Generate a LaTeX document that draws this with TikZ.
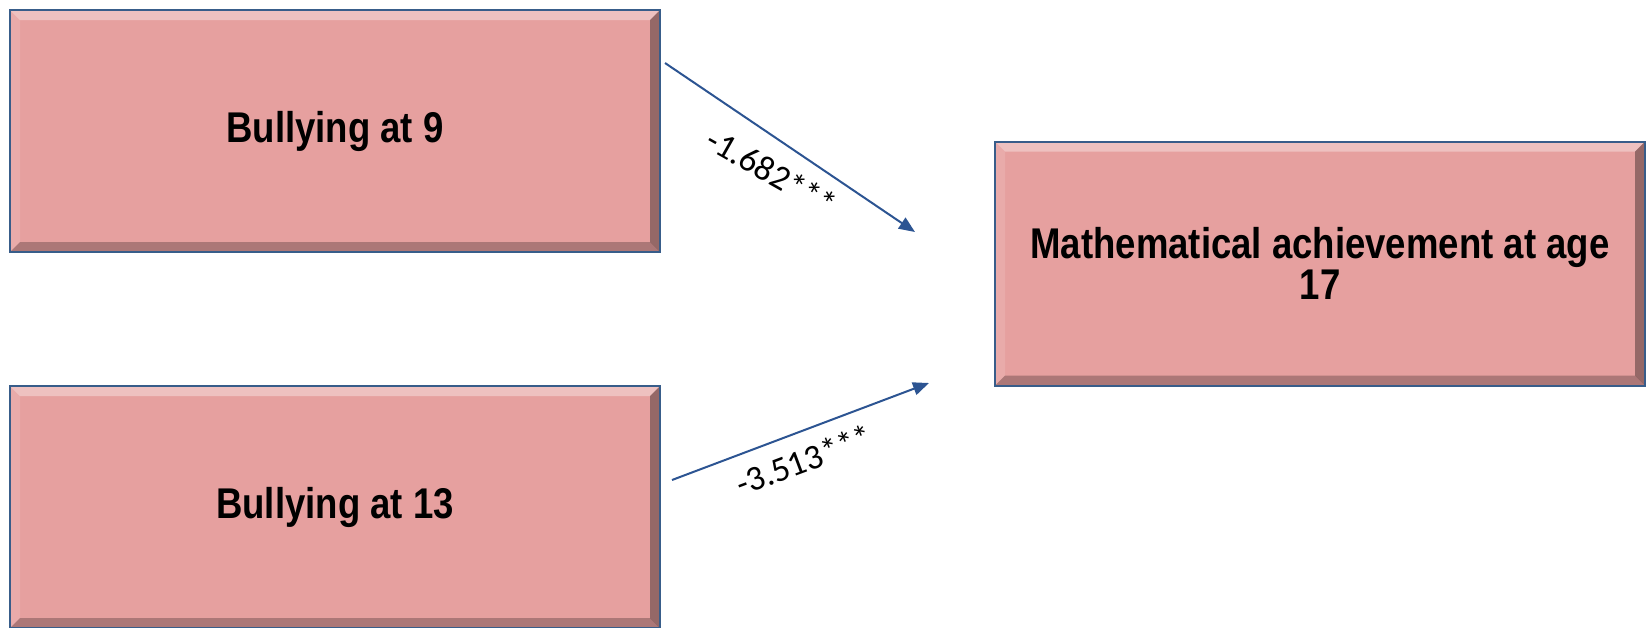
\documentclass[tikz,border=0pt]{standalone}
\usepackage{fontspec}
\setmainfont{Liberation Sans}
\newfontfamily\boxfont[FakeStretch=0.85]{Liberation Sans Bold}
\newfontfamily\coeffont{Carlito}
\usetikzlibrary{arrows.meta}

\definecolor{boxfill}{RGB}{230,160,159}
\definecolor{boxline}{RGB}{56,93,138}
\definecolor{pathblue}{RGB}{44,84,146}

\tikzset{
  varbox/.style={draw=boxline, line width=1pt, fill=boxfill,
    minimum width=325pt, minimum height=121pt, inner sep=0pt, align=center,
    font=\boxfont\fontsize{21.5}{20.5}\selectfont,
    path picture={
      % bevel: light top and left, dark bottom and right
      \fill[white,opacity=0.35] (path picture bounding box.north west) -- (path picture bounding box.north east)
        -- ([shift={(-5pt,-5pt)}]path picture bounding box.north east) -- ([shift={(5pt,-5pt)}]path picture bounding box.north west) -- cycle;
      \fill[white,opacity=0.12] (path picture bounding box.north west) -- ([shift={(5pt,-5pt)}]path picture bounding box.north west)
        -- ([shift={(5pt,5pt)}]path picture bounding box.south west) -- (path picture bounding box.south west) -- cycle;
      \fill[black,opacity=0.25] (path picture bounding box.south west) -- (path picture bounding box.south east)
        -- ([shift={(-5pt,5pt)}]path picture bounding box.south east) -- ([shift={(5pt,5pt)}]path picture bounding box.south west) -- cycle;
      \fill[black,opacity=0.35] (path picture bounding box.north east) -- (path picture bounding box.south east)
        -- ([shift={(-5pt,5pt)}]path picture bounding box.south east) -- ([shift={(-5pt,-5pt)}]path picture bounding box.north east) -- cycle;
    }},
  effect/.style={draw=pathblue, line width=1pt, -{Triangle[length=8pt,width=6.5pt]}},
  coef/.style={font=\coeffont\fontsize{17.5}{20}\selectfont, inner sep=0pt}
}

\begin{document}
\begin{tikzpicture}[x=0.5pt,y=-0.5pt]
\path[use as bounding box] (0,0) rectangle (1648,627);

% Boxes
\node[varbox] (bully9) at (335,131) {Bullying at 9};
\node[varbox] (bully13) at (335,507) {Bullying at 13};
\node[varbox, minimum height=122pt] (math17) at (1320,263.5) {Mathematical achievement at age\\17};

% Path ends
\coordinate (s9) at (665,63);
\coordinate (e9) at (915,232);
\coordinate (s13) at (672,480);
\coordinate (e13) at (929,383);

% Paths
\draw[effect] (s9) -- (e9);
\draw[effect] (s13) -- (e13);

% Coefficients
\node[coef, rotate=-29.5] (c9) at (772,172) {-1.682***};
\node[coef, rotate=20.5] (c13) at (804,460) {-3.513***};

\end{tikzpicture}
\end{document}
